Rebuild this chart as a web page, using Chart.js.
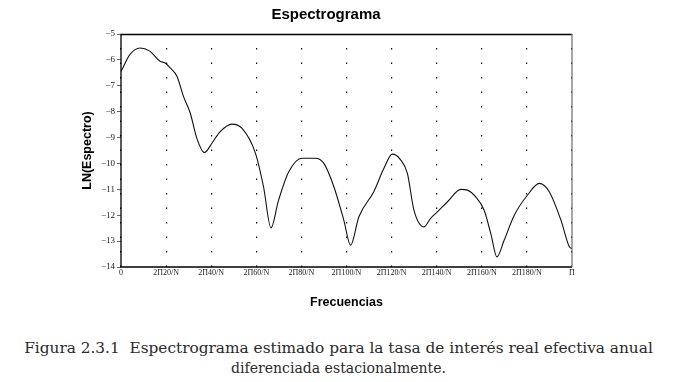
<!DOCTYPE html>
<html>
<head>
<meta charset="utf-8">
<script src="https://cdn.jsdelivr.net/npm/chart.js@4"></script>
<style>
html,body{margin:0;padding:0;background:#fff;width:677px;height:382px;overflow:hidden;}
#wrap{position:absolute;left:0;top:0;width:677px;height:320px;}
.cap{position:absolute;left:0;width:677px;text-align:center;font-family:"DejaVu Serif","Liberation Serif",serif;line-height:20px;color:#2a2a2a;white-space:nowrap;}
</style>
</head>
<body>
<div id="wrap"><canvas id="c" width="677" height="320"></canvas></div>
<div class="cap" id="cap1" style="top:338px;">Figura 2.3.1&nbsp; Espectrograma estimado para la tasa de interés real efectiva anual</div>
<div class="cap" id="cap2" style="top:358px;">diferenciada estacionalmente.</div>
<script>
// Frequency index k (frequency = 2πk/N, N = 400) and ln(spectrum) values
const freqIndex = [0, 4, 8.4, 12.9, 17.3, 19.6, 21.8, 24.8, 27.7, 30.7, 33.6, 37, 40.3, 44, 49.2, 53.6, 59.6, 63.2, 66.5, 69.9, 74.4, 80.3, 86.2, 89.9, 94.4, 98.8, 101.8, 105.5, 112.1, 116.6, 120.3, 124, 127, 129.9, 134.4, 137.3, 140.3, 144.8, 150.7, 153.6, 157.3, 161, 164, 166.7, 169.9, 174.4, 180.3, 185.5, 189.9, 195.1, 198.8, 200];
const lnSpectrum = [-6.45, -5.79, -5.54, -5.67, -6.05, -6.12, -6.31, -6.63, -7.41, -8.05, -9.02, -9.58, -9.22, -8.77, -8.48, -8.64, -9.6, -10.9, -12.49, -11.41, -10.32, -9.8, -9.8, -9.99, -10.9, -12.19, -13.16, -12.06, -11.09, -10.19, -9.64, -9.86, -10.38, -11.8, -12.45, -12.12, -11.87, -11.48, -11.0, -11.03, -11.29, -11.8, -12.71, -13.61, -12.97, -12.0, -11.22, -10.77, -11.09, -12.19, -13.22, -13.29];
const xTickValues = [0, 20, 40, 60, 80, 100, 120, 140, 160, 180, 200];
const xTickLabels = ["0", "2Π20/N", "2Π40/N", "2Π60/N", "2Π80/N", "2Π100/N", "2Π120/N", "2Π140/N", "2Π160/N", "2Π180/N", "Π"];
const yMin = -14, yMax = -5;

const points = freqIndex.map((k, i) => ({x: k, y: lnSpectrum[i]}));

const framePlugin = {
  id: 'frame',
  afterDatasetsDraw(chart) {
    const {ctx, chartArea: a} = chart;
    ctx.save();
    ctx.lineWidth = 1.3;
    ctx.strokeStyle = '#000';
    ctx.beginPath();
    ctx.moveTo(a.right, a.top + 0.5);
    ctx.lineTo(a.left, a.top + 0.5);
    ctx.lineTo(a.left, a.bottom);
    ctx.lineTo(a.right, a.bottom);
    ctx.stroke();
    ctx.strokeStyle = '#777';
    ctx.beginPath();
    ctx.moveTo(a.right, a.top);
    ctx.lineTo(a.right, a.bottom);
    ctx.stroke();
    ctx.restore();
  }
};

new Chart(document.getElementById('c'), {
  type: 'line',
  data: {
    datasets: [{
      data: points,
      borderColor: '#111',
      borderWidth: 1.1,
      pointRadius: 0,
      fill: false,
      cubicInterpolationMode: 'monotone'
    }]
  },
  options: {
    responsive: false,
    animation: false,
    layout: {padding: {left: 80, right: 105, top: 6, bottom: 10}},
    plugins: {
      legend: {display: false},
      tooltip: {enabled: false},
      title: {
        display: true,
        text: 'Espectrograma',
        color: '#000',
        font: {family: 'Liberation Sans, Arial, sans-serif', size: 15, weight: 'bold'},
        padding: {top: 0, bottom: 10}
      }
    },
    scales: {
      x: {
        type: 'linear',
        min: 0, max: 200,
        afterBuildTicks(s) { s.ticks = xTickValues.map(v => ({value: v})); },
        afterFit(s) { s.height = 43; },
        ticks: {
          autoSkip: false, maxRotation: 0, padding: 1,
          color: '#222',
          font: {family: 'Liberation Serif, serif', size: 8},
          callback: (v) => { const i = xTickValues.indexOf(v); return i >= 0 ? xTickLabels[i] : ''; }
        },
        grid: {color: '#000', lineWidth: 1.2, drawTicks: false},
        border: {display: false, dash: [1.5, 13], dashOffset: 0.5},
        title: {
          display: true, text: 'Frecuencias', color: '#000',
          font: {family: 'Liberation Sans, Arial, sans-serif', size: 12.5, weight: 'bold'},
          padding: {top: 0, bottom: 0}
        }
      },
      y: {
        min: yMin, max: yMax,
        afterFit(s) { s.width = 41; },
        ticks: {
          stepSize: 1, color: '#222', padding: 2,
          font: {family: 'Liberation Serif, serif', size: 9},
          callback: (v) => (v < 0 ? '\u2212' + Math.abs(v) : String(v))
        },
        grid: {drawOnChartArea: false, drawTicks: true, tickLength: 4, tickColor: '#666'},
        border: {display: false},
        title: {
          display: true, text: 'LN(Espectro)', color: '#000',
          font: {family: 'Liberation Sans, Arial, sans-serif', size: 12.5, weight: 'bold'},
          padding: {top: 0, bottom: 0}
        }
      }
    }
  },
  plugins: [framePlugin]
});

// fit caption line widths to the reference
(function(){
  const m = document.createElement('canvas').getContext('2d');
  function fit(id, target) {
    const el = document.getElementById(id);
    m.font = '20px "DejaVu Serif", "Liberation Serif", serif';
    const w = m.measureText(el.textContent).width;
    el.style.fontSize = (20 * target / w).toFixed(2) + 'px';
  }
  fit('cap1', 629);
  fit('cap2', 215);
})();
</script>
</body>
</html>
